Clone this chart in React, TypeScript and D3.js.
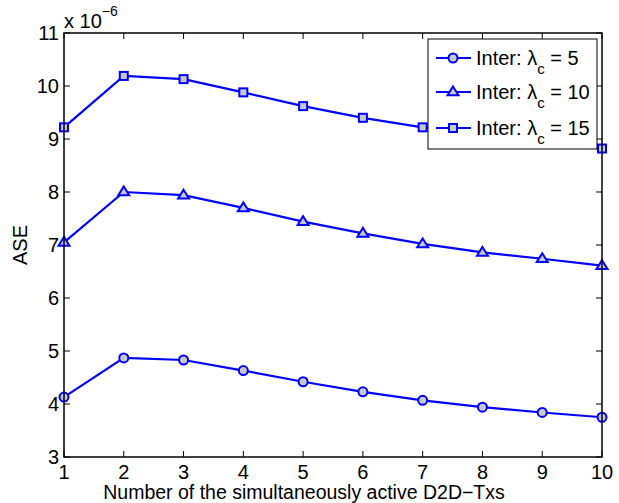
import React, { useEffect, useRef } from 'react';
import * as d3 from 'd3';

// number of simultaneously active D2D transmitters
const txCounts = [1, 2, 3, 4, 5, 6, 7, 8, 9, 10];
// ASE values in units of 1e-6
const aseLambda5 = [4.13, 4.87, 4.83, 4.63, 4.42, 4.23, 4.07, 3.94, 3.84, 3.75];
const aseLambda10 = [7.05, 8.0, 7.94, 7.7, 7.44, 7.22, 7.02, 6.86, 6.74, 6.61];
const aseLambda15 = [9.22, 10.19, 10.13, 9.88, 9.62, 9.4, 9.22, 9.07, 8.94, 8.82];
const seriesLabels = ['5', '10', '15'];
const markerKinds = ['circle', 'triangle', 'square'];
const yTicks = [3, 4, 5, 6, 7, 8, 9, 10, 11];

const W = 619;
const H = 503;

const App = () => {
    const svgRef = useRef<SVGSVGElement>(null);

    useEffect(() => {
        const svg = d3.select(svgRef.current);
        svg.selectAll('*').remove();

        const left = 64, right = 602, top = 33, bottom = 457;
        const font = 'Liberation Sans, Arial, sans-serif';
        const fs = '20px';
        const blue = '#0000ff';
        const markerFill = '#c8c8c8';

        const x = d3.scaleLinear().domain([1, 10]).range([left, right]);
        const y = d3.scaleLinear().domain([3, 11]).range([bottom, top]);

        const g = svg.append('g');

        g.append('rect')
            .attr('x', left).attr('y', top)
            .attr('width', right - left).attr('height', bottom - top)
            .attr('fill', 'white').attr('stroke', 'none');

        // inward ticks on all four sides
        const tl = 6;
        txCounts.forEach(t => {
            g.append('line').attr('x1', x(t)).attr('x2', x(t)).attr('y1', bottom).attr('y2', bottom - tl)
                .attr('stroke', 'black').attr('stroke-width', 1);
            g.append('line').attr('x1', x(t)).attr('x2', x(t)).attr('y1', top).attr('y2', top + tl)
                .attr('stroke', 'black').attr('stroke-width', 1);
            g.append('text')
                .attr('x', x(t)).attr('y', bottom + 22)
                .attr('text-anchor', 'middle')
                .style('font-family', font).style('font-size', fs)
                .text(t);
        });
        yTicks.forEach(v => {
            g.append('line').attr('x1', left).attr('x2', left + tl).attr('y1', y(v)).attr('y2', y(v))
                .attr('stroke', 'black').attr('stroke-width', 1);
            g.append('line').attr('x1', right).attr('x2', right - tl).attr('y1', y(v)).attr('y2', y(v))
                .attr('stroke', 'black').attr('stroke-width', 1);
            g.append('text')
                .attr('x', left - 5).attr('y', y(v) + 7)
                .attr('text-anchor', 'end')
                .style('font-family', font).style('font-size', fs)
                .text(v);
        });

        // exponent
        const expo = g.append('text')
            .attr('x', left).attr('y', top - 5)
            .style('font-family', font).style('font-size', fs);
        expo.append('tspan').text('x 10');
        expo.append('tspan').attr('dy', -12).style('font-size', '14px').text('\u22126');

        // axis titles
        g.append('text')
            .attr('x', 304).attr('y', 499)
            .attr('text-anchor', 'middle')
            .style('font-family', font).style('font-size', '19.5px')
            .text('Number of the simultaneously active D2D\u2212Txs');
        g.append('text')
            .attr('transform', `translate(27, ${(top + bottom) / 2}) rotate(-90)`)
            .attr('text-anchor', 'middle')
            .style('font-family', font).style('font-size', fs)
            .text('ASE');

        const drawMarker = (sel: any, kind: string, cx: number, cy: number) => {
            if (kind === 'circle') {
                sel.append('circle').attr('cx', cx).attr('cy', cy).attr('r', 4.5)
                    .attr('fill', markerFill).attr('stroke', blue).attr('stroke-width', 2);
            } else if (kind === 'square') {
                sel.append('rect').attr('x', cx - 4).attr('y', cy - 4).attr('width', 8).attr('height', 8)
                    .attr('fill', markerFill).attr('stroke', blue).attr('stroke-width', 2);
            } else {
                const s = 5.5;
                sel.append('path')
                    .attr('d', `M${cx},${cy - s}L${cx + s},${cy + s * 0.6}L${cx - s},${cy + s * 0.6}Z`)
                    .attr('fill', markerFill).attr('stroke', blue).attr('stroke-width', 2);
            }
        };

        const allSeries = [aseLambda5, aseLambda10, aseLambda15];
        const line = d3.line<number>().x((d, i) => x(txCounts[i])).y(d => y(d));
        allSeries.forEach((vals, si) => {
            g.append('path').attr('d', line(vals)).attr('fill', 'none')
                .attr('stroke', blue).attr('stroke-width', 2.2);
            vals.forEach((v, i) => drawMarker(g, markerKinds[si], x(txCounts[i]), y(v)));
        });

        g.append('rect')
            .attr('x', left).attr('y', top)
            .attr('width', right - left).attr('height', bottom - top)
            .attr('fill', 'none').attr('stroke', 'black').attr('stroke-width', 1.5);

        // legend
        const lx = 428, ly = 39, lw = 169, lh = 110;
        g.append('rect').attr('x', lx).attr('y', ly).attr('width', lw).attr('height', lh)
            .attr('fill', 'white').attr('stroke', 'black').attr('stroke-width', 1);
        const rows = [58, 92, 128];
        seriesLabels.forEach((lab, i) => {
            const ry = rows[i];
            g.append('line').attr('x1', lx + 8).attr('x2', lx + 43).attr('y1', ry).attr('y2', ry)
                .attr('stroke', blue).attr('stroke-width', 2.2);
            drawMarker(g, markerKinds[i], lx + 25, ry);
            const t = g.append('text')
                .attr('x', lx + 48).attr('y', ry + 7)
                .style('font-family', font).style('font-size', fs);
            t.append('tspan').text('Inter: \u03bb');
            t.append('tspan').attr('dy', 9).style('font-size', '15px').text('c');
            t.append('tspan').attr('dy', -9).text(` = ${lab}`);
        });
    }, []);

    return (
        <svg ref={svgRef} width={W} height={H} style={{ position: 'absolute', left: 0, top: 0, background: 'white' }}></svg>
    );
};

export default App;
